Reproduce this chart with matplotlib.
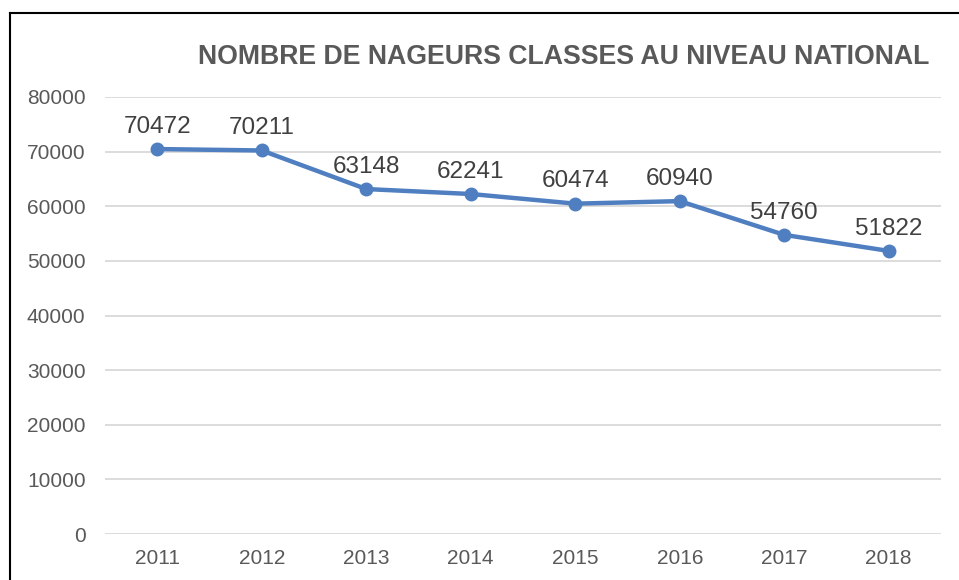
import matplotlib.pyplot as plt
from matplotlib.lines import Line2D

annees = ['2011', '2012', '2013', '2014', '2015', '2016', '2017', '2018']
nageurs = [70472, 70211, 63148, 62241, 60474, 60940, 54760, 51822]
graduations = [0, 10000, 20000, 30000, 40000, 50000, 60000, 70000, 80000]

plt.rcParams['font.family'] = ['Liberation Sans', 'DejaVu Sans']
gris = '#595959'
bleu = '#4F7FC0'

fig = plt.figure(figsize=(9.59, 5.80), dpi=100)
ax = fig.add_axes([105 / 959, 1 - 534 / 580, 836 / 959, 437 / 580])

x = range(len(annees))
ax.plot(x, nageurs, color=bleu, linewidth=3.2, marker='o', markersize=9, zorder=3)
for i, v in zip(x, nageurs):
    ax.annotate(str(v), (i, v), xytext=(0, 16), textcoords='offset points',
                ha='center', va='center', fontsize=17.5, color='#404040')

ax.set_xlim(-0.5, len(annees) - 0.5)
ax.set_ylim(0, 80000)
ax.set_xticks(list(x))
ax.set_xticklabels(annees)
ax.set_yticks(graduations)
ax.set_yticklabels([str(g) for g in graduations])
ax.tick_params(axis='both', length=0, labelsize=15, colors=gris)
ax.tick_params(axis='x', pad=11)
ax.tick_params(axis='y', pad=14)
ax.grid(axis='y', color='#D9D9D9', linewidth=1.3)
ax.set_axisbelow(True)
for s in ax.spines.values():
    s.set_visible(False)

fig.text(564 / 959, 1 - 57 / 580, 'NOMBRE DE NAGEURS CLASSES AU NIVEAU NATIONAL',
         ha='center', va='center', fontsize=19.2, fontweight='bold', color=gris)

# cadre
fig.add_artist(Line2D([10 / 959, 10 / 959], [0, 1 - 13 / 580], color='black', linewidth=1.5))
fig.add_artist(Line2D([10 / 959, 1], [1 - 13 / 580, 1 - 13 / 580], color='black', linewidth=1.5))

fig.savefig('out.png', dpi=100)
